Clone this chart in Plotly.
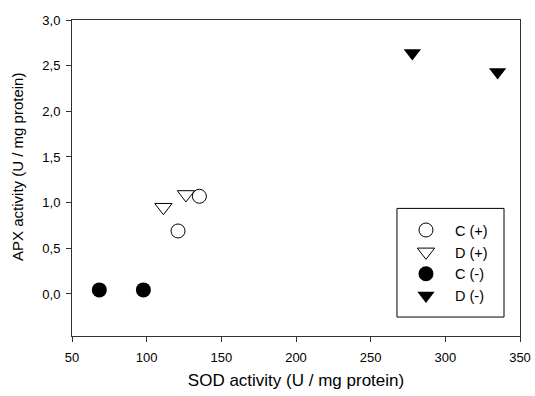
import plotly.graph_objects as go

# SOD activity (x) and APX activity (y) per group
c_plus_x = [121, 135.3]
c_plus_y = [0.69, 1.07]
d_plus_x = [111.2, 126.3]
d_plus_y = [0.95, 1.09]
c_minus_x = [68.3, 97.8]
c_minus_y = [0.045, 0.045]
d_minus_x = [277.9, 335.0]
d_minus_y = [2.64, 2.43]

fig = go.Figure()
fig.add_trace(go.Scatter(x=c_plus_x, y=c_plus_y, mode="markers", name="C (+)",
                         marker=dict(symbol="circle-open", size=14, color="black", line=dict(width=1))))
fig.add_trace(go.Scatter(x=d_plus_x, y=d_plus_y, mode="markers", name="D (+)",
                         marker=dict(symbol="triangle-down-open", size=15, color="black", line=dict(width=1))))
fig.add_trace(go.Scatter(x=c_minus_x, y=c_minus_y, mode="markers", name="C (-)",
                         marker=dict(symbol="circle", size=15, color="black")))
fig.add_trace(go.Scatter(x=d_minus_x, y=d_minus_y, mode="markers", name="D (-)",
                         marker=dict(symbol="triangle-down", size=15, color="black")))

axis_common = dict(showgrid=False, zeroline=False, showline=True, linecolor="#333333",
                   linewidth=1, mirror=True, ticks="outside", ticklen=5, tickcolor="#333333",
                   tickfont=dict(size=13, color="black"), automargin=False)

fig.update_layout(
    width=535, height=396,
    margin=dict(l=72, r=15, t=20, b=60, autoexpand=False),
    paper_bgcolor="white", plot_bgcolor="white",
    font=dict(family="Liberation Sans, Arial, sans-serif", size=13, color="black"),
    separators=",.",
    xaxis=dict(range=[50, 350], dtick=50, tick0=50, ticklabelstandoff=4,
               title=dict(text="SOD activity (U / mg protein)", font=dict(size=17), standoff=10),
               **axis_common),
    yaxis=dict(range=[-0.46, 3.0], dtick=0.5, tick0=0, tickformat=".1f", ticklabelstandoff=3,
               **axis_common),
    annotations=[dict(text="APX activity (U / mg protein)", textangle=-90,
                      xref="paper", yref="paper", x=0, y=0.535, xshift=-54,
                      xanchor="center", yanchor="middle", showarrow=False,
                      font=dict(size=15, color="black"))],
    shapes=[dict(type="rect", xref="paper", yref="paper",
                 x0=0.7254, x1=0.9643, y0=0.060, y1=0.4038,
                 line=dict(color="black", width=1), fillcolor="rgba(0,0,0,0)", layer="above")],
    legend=dict(x=0.7254, y=0.0757, xanchor="left", yanchor="bottom",
                borderwidth=0, bgcolor="rgba(0,0,0,0)",
                font=dict(size=14.5), itemwidth=48, tracegroupgap=0),
    showlegend=True,
)

fig.write_html("out.html")
